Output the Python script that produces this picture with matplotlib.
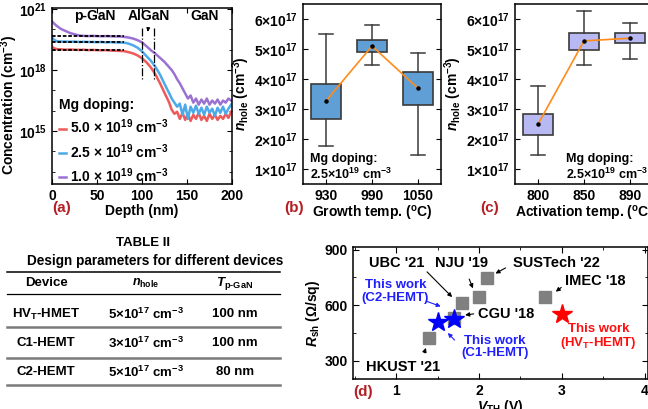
import numpy as np
import matplotlib
matplotlib.use('Agg')
import matplotlib.pyplot as plt
from matplotlib.ticker import FixedLocator, MultipleLocator, NullFormatter

plt.rcParams['font.family'] = ['Liberation Sans', 'DejaVu Sans']
plt.rcParams['font.weight'] = 'bold'
plt.rcParams['axes.labelweight'] = 'bold'
plt.rcParams['mathtext.fontset'] = 'custom'
plt.rcParams['mathtext.rm'] = 'Liberation Sans:bold'
plt.rcParams['mathtext.bf'] = 'Liberation Sans:bold'
plt.rcParams['mathtext.it'] = 'Liberation Sans:italic:bold'
plt.rcParams['axes.linewidth'] = 1.1
plt.rcParams['xtick.direction'] = 'in'
plt.rcParams['ytick.direction'] = 'in'

# ---------- (a) SIMS profiles (log10 of concentration) ----------
depth = [0, 2, 5, 10, 15, 20, 25, 30, 35, 40, 45, 50, 55, 60, 65, 70, 75, 80, 85, 90,
         95, 100, 105, 110, 115, 120, 125, 130, 133, 136, 139, 142, 145, 148, 151, 154,
         157, 160, 163, 166, 169, 172, 175, 178, 181, 184, 187, 190, 193, 196, 199]
mg_5p0 = [19.15, 19.08, 19.03, 19.02, 19.0, 19.01, 19.0, 18.99, 19.0, 18.98, 18.99, 18.98,
          18.97, 18.98, 18.96, 18.95, 18.94, 18.93, 18.88, 18.82, 18.72, 18.58, 18.38, 18.12,
          17.78, 17.35, 16.88, 16.42, 16.05, 15.85, 15.95, 15.6, 15.9, 15.55, 15.85, 15.5,
          15.8, 15.6, 15.9, 15.55, 15.75, 15.5, 15.85, 15.6, 15.8, 15.55, 15.75, 15.6, 15.85,
          15.65, 15.95]
mg_2p5 = [19.6, 19.5, 19.42, 19.4, 19.4, 19.39, 19.4, 19.38, 19.39, 19.38, 19.38, 19.37,
          19.38, 19.36, 19.37, 19.36, 19.35, 19.35, 19.3, 19.22, 19.1, 18.92, 18.68, 18.45,
          18.15, 17.78, 17.32, 16.88, 16.6, 16.4, 16.2, 16.35, 15.8, 16.3, 15.6, 16.2, 15.9,
          16.25, 15.85, 16.15, 15.8, 16.2, 15.9, 16.1, 15.75, 16.15, 15.9, 16.2, 15.85, 16.1,
          16.3]
mg_1p0 = [20.4, 20.3, 20.18, 20.02, 19.92, 19.82, 19.76, 19.7, 19.68, 19.67, 19.68, 19.67,
          19.66, 19.67, 19.66, 19.65, 19.65, 19.63, 19.6, 19.55, 19.47, 19.36, 19.17, 18.97,
          18.8, 18.6, 18.4, 18.15, 18.0, 17.8, 17.55, 17.35, 17.1, 16.85, 16.6, 16.75, 16.4,
          16.6, 16.3, 16.55, 16.35, 16.6, 16.3, 16.5, 16.35, 16.55, 16.3, 16.5, 16.4, 16.6,
          16.5]
flat_levels = [19.67, 19.38, 18.98]
sims_labels = [r'5.0 $\times$ 10$^{19}$ cm$^{-3}$', r'2.5 $\times$ 10$^{19}$ cm$^{-3}$',
               r'1.0 $\times$ 10$^{19}$ cm$^{-3}$']
sims_colors = ['#EE5A5A', '#4DAAE8', '#9B72D2']

# ---------- (b), (c) hole concentration boxes (x1e17 cm^-3) ----------
growth_temp = ['930', '990', '1050']
growth_whislo = [1.78, 4.48, 1.48]
growth_q1 = [2.68, 4.90, 3.13]
growth_q3 = [3.82, 5.29, 4.23]
growth_whishi = [5.49, 5.80, 4.88]
growth_mean = [3.27, 5.10, 3.69]

act_temp = ['800', '850', '890']
act_whislo = [1.48, 4.48, 4.68]
act_q1 = [2.13, 4.98, 5.19]
act_q3 = [2.83, 5.53, 5.53]
act_whishi = [3.78, 6.28, 5.88]
act_mean = [2.49, 5.27, 5.36]

# ---------- table ----------
tab_devices = [r'HV$_{\rm T}$-HMET', 'C1-HEMT', 'C2-HEMT']
tab_nhole = [r'5x10$^{17}$ cm$^{-3}$', r'3x10$^{17}$ cm$^{-3}$', r'5x10$^{17}$ cm$^{-3}$']
tab_thick = ['100 nm', '100 nm', '80 nm']

# ---------- (d) benchmark ----------
ref_names = ["HKUST '21", "UBC '21", "CGU '18", "NJU '19", "SUSTech '22", "IMEC '18"]
ref_vth = [1.4, 1.8, 1.7, 2.0, 2.1, 2.8]
ref_rsh = [420, 610, 530, 645, 748, 645]
work_names = ['This work\n(C1-HEMT)', 'This work\n(C2-HEMT)', 'This work\n(HV$_{\\rm T}$-HEMT)']
work_vth = [1.5, 1.7, 3.0]
work_rsh = [510, 525, 550]

W, H = 648, 409
fig = plt.figure(figsize=(W / 100, H / 100), dpi=100)


def box(l, t, r, b):
    return [l / W, 1 - b / H, (r - l) / W, (b - t) / H]


lab_red = '#B52025'

# (a)
ax = fig.add_axes(box(52, 8, 232, 184))
for y, c in zip([mg_5p0, mg_2p5, mg_1p0], sims_colors):
    ax.plot(depth, 10 ** np.array(y), color=c, lw=1.8)
for lv in flat_levels:
    ax.plot([0, 80], [10 ** lv, 10 ** lv], color='k', lw=1.3, ls=(0, (2, 1)))
ax.plot([100, 100], [10 ** 20.05, 10 ** 17.45], color='k', lw=0.9, ls='-.')
ax.plot([113, 113], [10 ** 20.05, 10 ** 17.45], color='k', lw=0.9, ls='-.')
ax.annotate('', xy=(106, 10 ** 19.75), xytext=(107, 10 ** 20.1),
            arrowprops=dict(arrowstyle='-|>', lw=0.8, color='k', mutation_scale=5))
ax.text(25, 10 ** 20.45, 'p-GaN', fontsize=10)
ax.text(107, 10 ** 20.45, 'AlGaN', fontsize=10, ha='center')
ax.text(154, 10 ** 20.45, 'GaN', fontsize=10)
ax.set_yscale('log')
ax.set_xlim(0, 200)
ax.set_ylim(10 ** 12.4, 10 ** 21.05)
ax.set_xticks([0, 50, 100, 150, 200])
ax.yaxis.set_major_locator(FixedLocator([1e15, 1e18, 1e21]))
ax.yaxis.set_minor_locator(FixedLocator([10.0 ** k for k in range(12, 22)]))
ax.yaxis.set_minor_formatter(NullFormatter())
ax.set_yticklabels([r'10$^{15}$', r'10$^{18}$', r'10$^{21}$'])
ax.tick_params(labelsize=10, top=True, right=True, which='both')
ax.set_xlabel('Depth (nm)', fontsize=10, labelpad=1)
ax.set_ylabel(r'Concentration (cm$^{-3}$)', fontsize=10)
ax.yaxis.set_label_coords(-0.175, 0.45)
leg = ax.legend(sims_labels, loc='lower left', bbox_to_anchor=(-0.03, -0.075), frameon=False,
                title='Mg doping:', title_fontproperties={'weight': 'bold', 'size': 10},
                fontsize=10, handlelength=0.5, handletextpad=0.3, labelspacing=0.4,
                alignment='left')
fig.text(52 / W, 1 - 208 / H, '(a)', color=lab_red, fontsize=11, va='center')


def boxes(ax, names, lo, q1, q3, hi, mean, face):
    stats = [dict(med=m, q1=a, q3=b, whislo=l, whishi=h, fliers=[])
             for l, a, b, h, m in zip(lo, q1, q3, hi, mean)]
    pos = np.arange(1, len(names) + 1)
    ax.bxp(stats, positions=pos, widths=0.64, patch_artist=True, showfliers=False,
           boxprops=dict(facecolor=face, edgecolor='#3A3A3A', lw=1.2),
           whiskerprops=dict(color='#3A3A3A', lw=1.1), capprops=dict(color='#3A3A3A', lw=1.1),
           medianprops=dict(lw=0), capwidths=0.3)
    ax.plot(pos, mean, color='#FF8C1A', lw=1.2, marker='o', ms=2.2, mfc='k', mec='k', zorder=5)
    ax.set_xticks(pos)
    ax.set_xticklabels(names)
    ax.set_xlim(0.5, len(names) + 0.5)
    ax.set_ylim(0.5, 6.5)
    ax.set_yticks([1, 2, 3, 4, 5, 6])
    ax.set_yticklabels([r'%d$\times$10$^{17}$' % k for k in range(1, 7)])
    ax.tick_params(labelsize=10, right=True, top=False)
    ax.set_ylabel(r'$n_{\rm hole}$ (cm$^{-3}$)', fontsize=10, labelpad=2)


# (b)
axb = fig.add_axes(box(303, 4, 441, 184))
boxes(axb, growth_temp, growth_whislo, growth_q1, growth_q3, growth_whishi, growth_mean, '#5F9FD6')
axb.text(0.65, 1.05, 'Mg doping:\n' + r'2.5$\times$10$^{19}$ cm$^{-3}$', fontsize=9,
         va='center', linespacing=1.15)
axb.set_xlabel(r'Growth temp. ($^{\rm o}$C)', fontsize=10, labelpad=1)
fig.text(284 / W, 1 - 208 / H, '(b)', color=lab_red, fontsize=11, va='center')

# (c)
axc = fig.add_axes(box(515, 4, 653, 184))
boxes(axc, act_temp, act_whislo, act_q1, act_q3, act_whishi, act_mean, '#B8B8F2')
axc.text(1.6, 1.05, 'Mg doping:\n' + r'2.5$\times$10$^{19}$ cm$^{-3}$', fontsize=9,
         va='center', linespacing=1.15)
axc.set_xlabel(r'Activation temp. ($^{\rm o}$C)', fontsize=10, labelpad=1)
fig.text(480 / W, 1 - 208 / H, '(c)', color=lab_red, fontsize=11, va='center')

# table
tab = fig.add_axes([0, 0, 1, 1], zorder=-1)
tab.set_xlim(0, W)
tab.set_ylim(H, 0)
tab.axis('off')
tab.text(143, 243, 'TABLE II', ha='center', va='center', fontsize=9.5)
tab.text(155, 261, 'Design parameters for different devices', ha='center', va='center',
         fontsize=9.8)
tab.plot([7, 280], [272, 272], color='k', lw=1.1)
tab.plot([7, 280], [294, 294], color='k', lw=0.9)
for yl in [327, 358, 385]:
    tab.plot([7, 280], [yl, yl], color='#7A7A7A', lw=1.8)
col_x = [46, 146, 235]
tab.text(col_x[0], 283, 'Device', ha='center', va='center', fontsize=9.5)
tab.text(col_x[1], 283, r'$n_{\rm hole}$', ha='center', va='center', fontsize=9)
tab.text(col_x[2], 283, r'$T_{\rm p‐GaN}$', ha='center', va='center', fontsize=9.5)
for i, yr in enumerate([314, 343, 372]):
    tab.text(col_x[0], yr, tab_devices[i], ha='center', va='center', fontsize=9.5)
    tab.text(col_x[1], yr, tab_nhole[i].replace('x', r'$\times$'), ha='center', va='center',
             fontsize=9.5)
    tab.text(col_x[2], yr, tab_thick[i], ha='center', va='center', fontsize=9.5)

# (d)
axd = fig.add_axes(box(353, 247, 648, 379))
axd.plot(ref_vth, ref_rsh, 's', color='#808080', ms=8, zorder=3)
axd.plot(work_vth[:2], work_rsh[:2], '*', color='#0000FF', ms=15, zorder=4)
axd.plot(work_vth[2:], work_rsh[2:], '*', color='#FF0000', ms=15, zorder=4)
axd.set_xlim(0.48, 4.04)
axd.set_ylim(200, 915)
axd.set_xticks([1, 2, 3, 4])
axd.set_yticks([300, 600, 900])
axd.xaxis.set_minor_locator(MultipleLocator(0.5))
axd.yaxis.set_minor_locator(MultipleLocator(150))
axd.tick_params(labelsize=10, top=True, right=True, which='both')
axd.tick_params(which='major', length=4)
axd.tick_params(which='minor', length=2.5)
axd.set_xlabel(r'$V_{\rm TH}$ (V)', fontsize=10, labelpad=0)
axd.set_ylabel(r'$R_{\rm sh}$ ($\Omega$/sq)', fontsize=10, labelpad=2)
fig.text(353 / W, 1 - 392 / H, '(d)', color=lab_red, fontsize=11, va='center')

ref_txt = [(1.09, 264), (1.01, 827), (2.33, 550), (1.79, 831), (2.94, 831), (3.40, 731)]
ref_tail = [(1.33, 328), (1.35, 791), (1.97, 555), (1.87, 755), (2.35, 809), (3.02, 705)]
ref_head = [(1.37, 383), (1.70, 633), (1.80, 544), (1.94, 677), (2.17, 764), (2.90, 664)]
for name, t, a, h in zip(ref_names, ref_txt, ref_tail, ref_head):
    axd.text(t[0], t[1], name, ha='center', va='center', fontsize=10.5)
    axd.annotate('', xy=h, xytext=a, arrowprops=dict(arrowstyle='-|>', lw=0.8, color='k',
                                                      mutation_scale=6))
work_txt = [(2.19, 373), (0.99, 673), (3.44, 427)]
work_col = ['#2020FF', '#2020FF', '#FF1010']
for name, t, c in zip(work_names, work_txt, work_col):
    axd.text(t[0], t[1], name, ha='center', va='center', fontsize=9.5, color=c,
             linespacing=1.05)
axd.annotate('', xy=(1.60, 460), xytext=(1.73, 400),
             arrowprops=dict(arrowstyle='-|>', lw=0.8, color='#2020FF', mutation_scale=6))
axd.annotate('', xy=(1.57, 588), xytext=(1.33, 627),
             arrowprops=dict(arrowstyle='-|>', lw=0.8, color='#2020FF', mutation_scale=6))

fig.savefig('out.png', dpi=100)
